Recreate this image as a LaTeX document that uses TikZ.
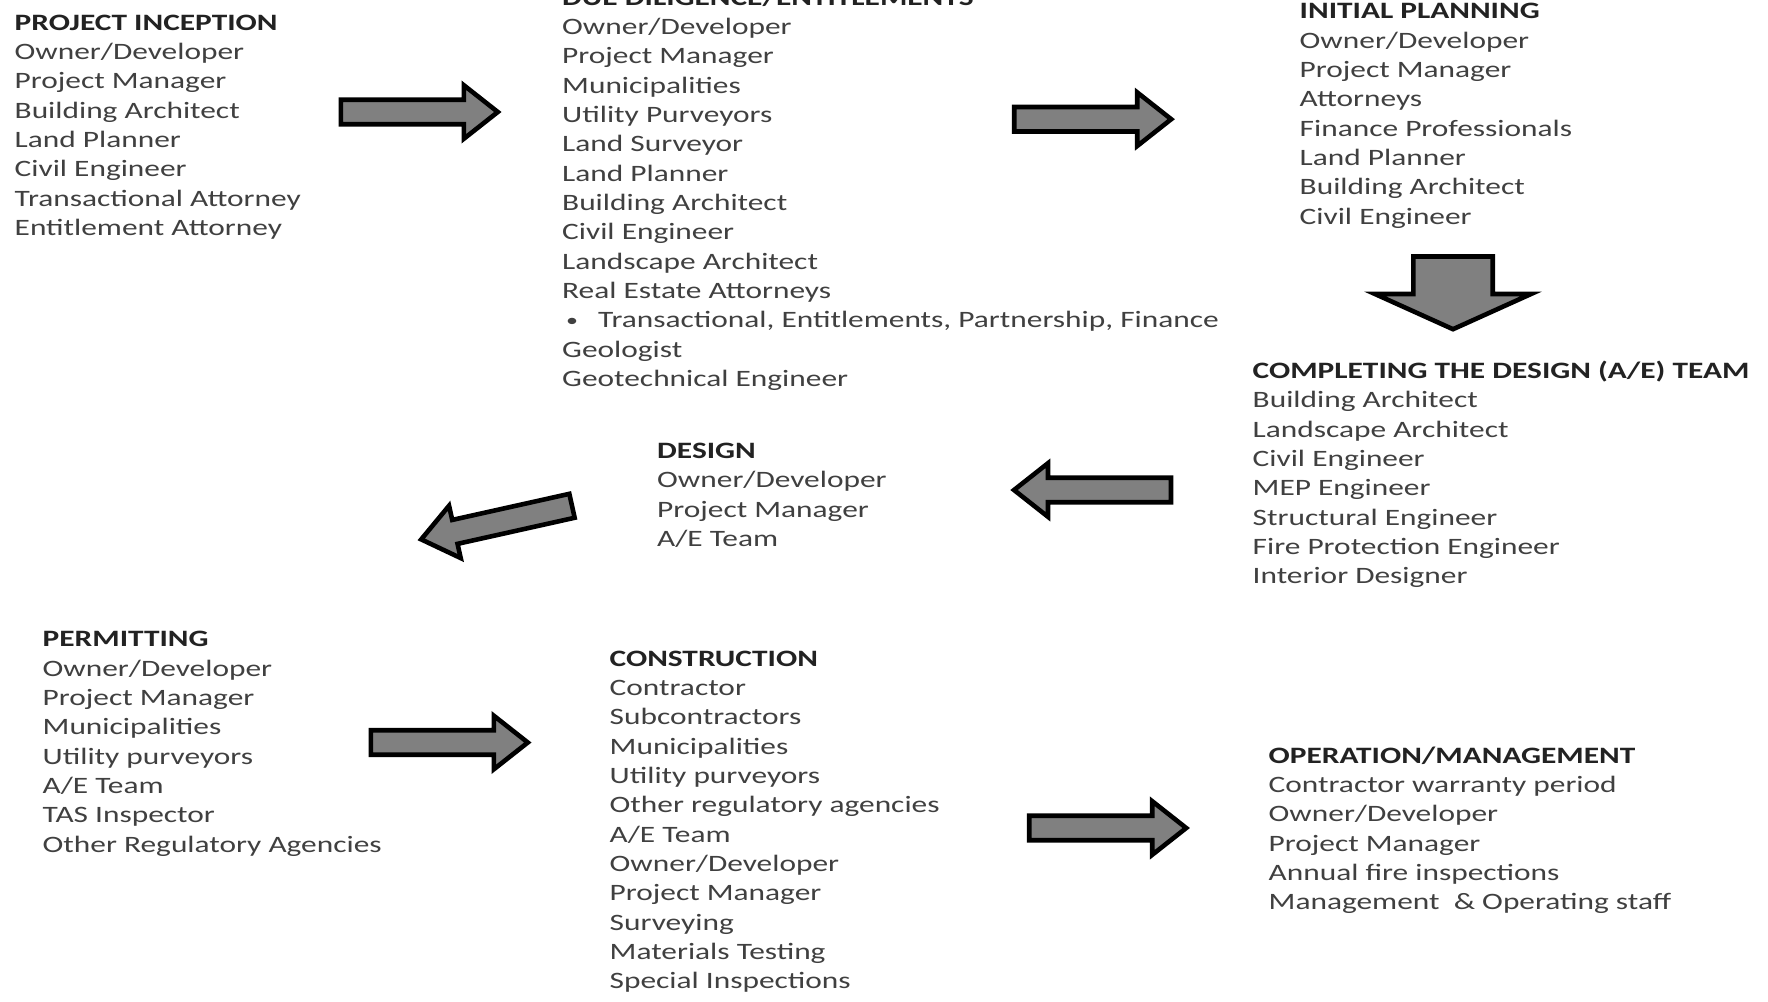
\documentclass[tikz,border=0pt]{standalone}
\usepackage{fontspec}
\setmainfont{Carlito}[FakeStretch=1.335]
\definecolor{txt}{RGB}{64,64,64}
\definecolor{ttl}{RGB}{34,34,34}
\definecolor{arrfill}{RGB}{128,128,128}
\newcommand{\blocktitle}[1]{\textbf{\color{ttl}#1}}
\newcommand{\smallbullet}{\raisebox{1.5pt}{\fontsize{18}{20}\selectfont •}}
% x, y (tail centre), angle, length, head base, shaft half, head half
\newcommand{\blockarr}[7]{%
  \begin{scope}[shift={(#1,#2)},rotate=#3]
    \filldraw[arrowsty] (0,-#6) -- (#5,-#6) -- (#5,-#7) -- (#4,0) -- (#5,#7) -- (#5,#6) -- (0,#6) -- cycle;
  \end{scope}}
\begin{document}
\begin{tikzpicture}[x=1pt,y=-1pt,
  block/.style={anchor=base west, inner sep=0pt, text=txt, font=\fontsize{23.5}{29.33}\selectfont},
  arrowsty/.style={fill=arrfill, draw=black, line width=4.6pt, line join=miter}]
\useasboundingbox (0,0) rectangle (1768,1001);

\node[block] (inception) at (14.5,30.1) {\begin{tabular}[t]{@{}l@{}}
\blocktitle{PROJECT INCEPTION}\\
Owner/Developer\\ Project Manager\\ Building Architect\\ Land Planner\\
Civil Engineer\\ Transactional Attorney\\ Entitlement Attorney
\end{tabular}};

\node[block] (diligence) at (562,5.3) {\begin{tabular}[t]{@{}l@{}}
\blocktitle{DUE DILIGENCE/ENTITLEMENTS}\\
Owner/Developer\\ Project Manager\\ Municipalities\\ Utility Purveyors\\
Land Surveyor\\ Land Planner\\ Building Architect\\ Civil Engineer\\
Landscape Architect\\ Real Estate Attorneys\\
\makebox[36pt][l]{\hspace{4pt}\smallbullet}Transactional, Entitlements, Partnership, Finance\\
Geologist\\ Geotechnical Engineer
\end{tabular}};

\node[block] (planning) at (1299.5,18.8) {\begin{tabular}[t]{@{}l@{}}
\blocktitle{INITIAL PLANNING}\\
Owner/Developer\\ Project Manager\\ Attorneys\\ Finance Professionals\\
Land Planner\\ Building Architect\\ Civil Engineer
\end{tabular}};

\node[block] (completing) at (1252.5,378.6) {\begin{tabular}[t]{@{}l@{}}
\blocktitle{COMPLETING THE DESIGN (A/E) TEAM}\\
Building Architect\\ Landscape Architect\\ Civil Engineer\\ MEP Engineer\\
Structural Engineer\\ Fire Protection Engineer\\ Interior Designer
\end{tabular}};

\node[block] (design) at (657,458.6) {\begin{tabular}[t]{@{}l@{}}
\blocktitle{DESIGN}\\
Owner/Developer\\ Project Manager\\ A/E Team
\end{tabular}};

\node[block] (permitting) at (42.5,646.9) {\begin{tabular}[t]{@{}l@{}}
\blocktitle{PERMITTING}\\
Owner/Developer\\ Project Manager\\ Municipalities\\ Utility purveyors\\
A/E Team\\ TAS Inspector\\ Other Regulatory Agencies
\end{tabular}};

\node[block] (construction) at (609.5,666.1) {\begin{tabular}[t]{@{}l@{}}
\blocktitle{CONSTRUCTION}\\
Contractor\\ Subcontractors\\ Municipalities\\ Utility purveyors\\
Other regulatory agencies\\ A/E Team\\ Owner/Developer\\ Project Manager\\
Surveying\\ Materials Testing\\ Special Inspections
\end{tabular}};

\node[block] (operation) at (1268.5,763.1) {\begin{tabular}[t]{@{}l@{}}
\blocktitle{OPERATION/MANAGEMENT}\\
Contractor warranty period\\ Owner/Developer\\ Project Manager\\
Annual fire inspections\\ Management\ \ \& Operating staff
\end{tabular}};

% block arrows
\blockarr{340.8}{112}{0}{157}{123}{12.25}{26.8}
\blockarr{1014.2}{119.2}{0}{157}{123}{12.25}{26.8}
\blockarr{1453}{256.5}{-90}{72.7}{37.5}{39.7}{78}
\blockarr{1171}{490}{180}{157}{123}{12.25}{26.8}
\blockarr{572}{505.8}{192.56}{154.5}{120}{12.25}{26.8}
\blockarr{370.8}{742.5}{0}{157}{123}{12.25}{26.8}
\blockarr{1029.2}{828}{0}{157}{123}{12.25}{26.8}
\end{tikzpicture}
\end{document}
